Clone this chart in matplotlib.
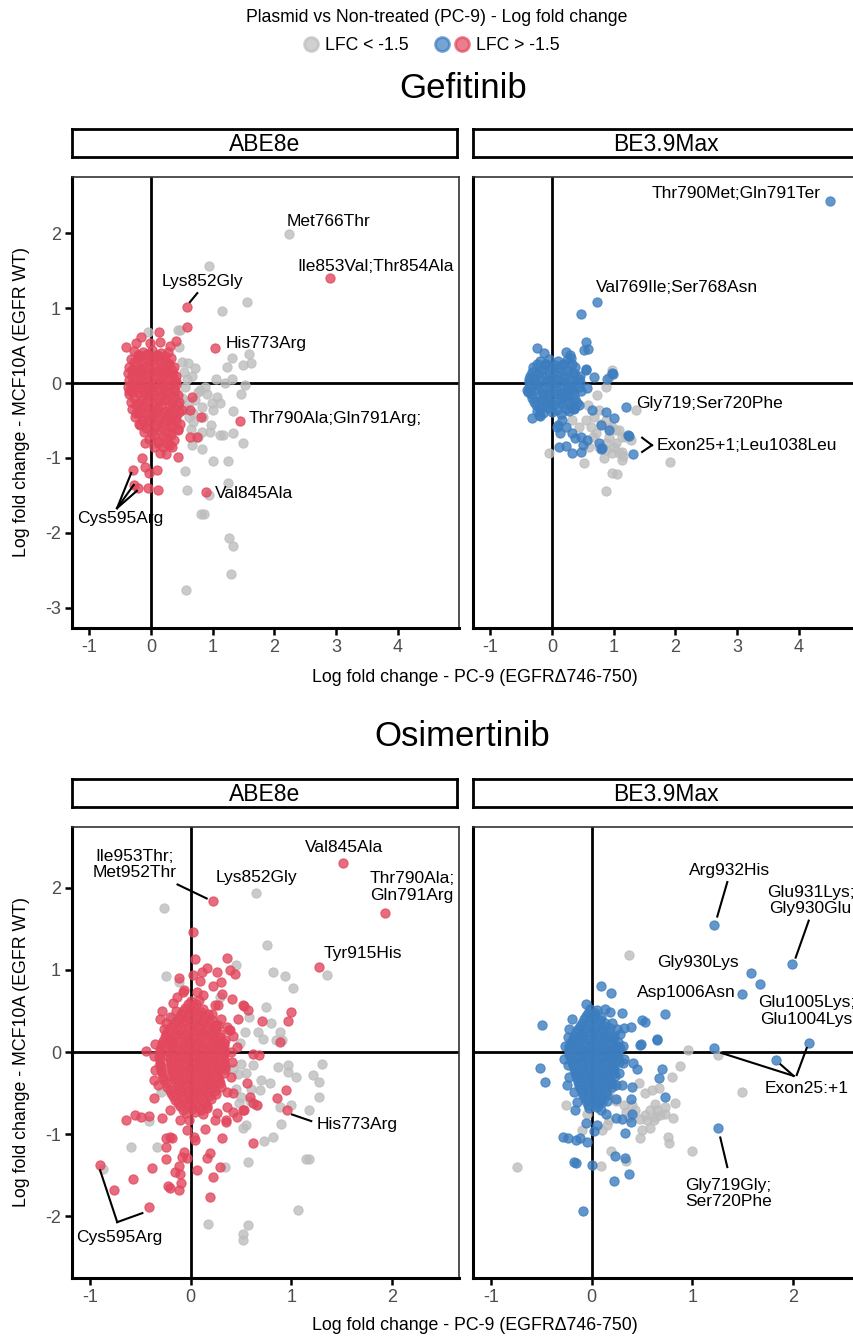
import matplotlib
matplotlib.use("Agg")
import matplotlib.pyplot as plt
import numpy as np
from matplotlib.lines import Line2D
from matplotlib.legend_handler import HandlerTuple

plt.rcParams['font.family'] = ['Liberation Sans', 'DejaVu Sans']
plt.rcParams['axes.unicode_minus'] = False

W, H = 854, 1336
RED = '#E2475D'
BLUE = '#3C7DBF'
GREY = '#BDBDBD'

# ---------------- Gefitinib / ABE8e ----------------
gef_abe_bg = [
    (2.23, 1.99), (0.94, 1.56), (1.55, 1.08), (1.15, 0.96), (0.47, 0.71), (0.45, 0.48),
    (1.59, 0.39), (1.31, 0.33), (1.62, 0.27), (1.49, 0.24), (1.23, 0.21), (0.71, 0.20),
    (0.60, 0.27), (0.50, 0.28), (1.31, 0.05), (1.20, 0.00), (1.52, -0.03), (1.46, -0.15),
    (1.07, -0.19), (0.90, -0.15), (0.76, -0.12), (1.12, -0.27), (0.99, -0.27), (0.83, -0.32),
    (1.00, -0.36), (1.33, -0.37), (0.68, -0.40), (0.68, -0.52), (0.98, -0.56), (0.83, -0.65),
    (1.12, -0.69), (1.17, -0.69), (1.33, -0.67), (1.49, -0.80), (0.67, -0.83), (0.83, -0.88),
    (1.00, -1.04), (1.25, -1.04), (0.55, -1.17), (1.25, -1.33), (0.59, -1.43), (0.94, -1.49),
    (0.81, -1.75), (0.86, -1.75), (1.27, -2.07), (1.33, -2.18), (1.29, -2.55), (0.57, -2.76),
    (-0.05, 0.68), (0.44, 0.71), (0.53, 0.15), (0.58, 0.05), (0.55, -0.05), (0.79, -0.09),
    (0.62, -0.25), (0.72, -0.22), (0.85, -0.45), (0.62, -0.45), (0.95, -0.65), (0.65, -0.62),
    (0.76, -0.72), (0.55, -0.35), (0.50, -0.20), (0.88, -0.05), (1.05, 0.05), (0.66, 0.10),
]
gef_abe_hit = [
    # outlying variants
    (2.90, 1.40), (0.58, 1.01), (0.58, 0.75), (1.04, 0.47), (1.44, -0.51),
    (0.89, -1.45), (0.66, -0.19), (0.81, -0.45), (0.63, -0.36), (0.63, -0.72),
    (0.74, -0.72), (0.34, -0.85), (0.44, -0.99), (0.15, -0.93), (0.25, -0.95),
    (-0.18, -0.56), (-0.10, -0.80), (-0.15, -1.00), (-0.10, -1.12),
    (-0.03, -1.20), (0.10, -1.16), (-0.29, -1.16), (-0.28, -1.36), (-0.21, -1.40),
    (-0.05, -1.40), (0.11, -1.43),
    (-0.40, 0.48), (-0.24, 0.53), (-0.16, 0.62), (-0.02, 0.53), (0.13, 0.68),
    (0.15, 0.55), (0.41, 0.56), (0.30, 0.50),
    # dense core
    (-0.28, 0.43), (-0.13, 0.41), (0.02, 0.44), (0.17, 0.40), (0.27, 0.42),
    (-0.33, 0.32), (-0.19, 0.35), (-0.06, 0.31), (0.09, 0.34), (0.22, 0.30), (0.33, 0.33),
    (-0.35, 0.22), (-0.23, 0.25), (-0.09, 0.21), (0.05, 0.24), (0.18, 0.22), (0.29, 0.26), (0.38, 0.21),
    (-0.37, 0.13), (-0.24, 0.15), (-0.11, 0.12), (0.01, 0.16), (0.14, 0.13), (0.26, 0.15), (0.36, 0.12),
    (-0.36, 0.04), (-0.22, 0.06), (-0.10, 0.03), (0.04, 0.07), (0.16, 0.04), (0.28, 0.06), (0.41, 0.03),
    (-0.38, -0.05), (-0.26, -0.03), (-0.13, -0.06), (0.00, -0.04), (0.12, -0.07), (0.24, -0.04), (0.37, -0.06),
    (-0.35, -0.15), (-0.21, -0.13), (-0.09, -0.16), (0.05, -0.14), (0.18, -0.17), (0.30, -0.14), (0.43, -0.16),
    (-0.33, -0.25), (-0.20, -0.27), (-0.06, -0.24), (0.08, -0.26), (0.21, -0.23), (0.34, -0.27), (0.46, -0.25),
    (-0.30, -0.35), (-0.16, -0.33), (-0.03, -0.36), (0.11, -0.34), (0.24, -0.37), (0.37, -0.34), (0.50, -0.36),
    (-0.26, -0.45), (-0.12, -0.47), (0.02, -0.44), (0.15, -0.46), (0.28, -0.43), (0.41, -0.46),
    (-0.20, -0.55), (-0.06, -0.53), (0.08, -0.56), (0.21, -0.54), (0.34, -0.57), (0.47, -0.55),
    (-0.12, -0.65), (0.02, -0.67), (0.16, -0.64), (0.30, -0.66), (0.43, -0.63),
    (-0.04, -0.75), (0.12, -0.77), (0.26, -0.74), (0.38, -0.76),
    (0.05, -0.85), (0.20, -0.86), (0.30, -0.83),
    (-0.20, 0.38), (-0.05, 0.37), (0.10, 0.38), (-0.29, 0.18), (-0.15, 0.18), (0.20, 0.17),
    (-0.30, -0.10), (-0.05, -0.10), (0.22, -0.10), (-0.25, -0.40), (0.05, -0.40), (0.33, -0.50),
    (-0.21, 0.38), (-0.06, 0.39), (0.09, 0.37), (0.22, 0.36),
    (-0.27, 0.28), (-0.13, 0.27), (0.01, 0.29), (0.15, 0.28), (0.28, 0.27),
    (-0.30, 0.18), (-0.16, 0.19), (-0.03, 0.17), (0.11, 0.18), (0.24, 0.19), (0.34, 0.17),
    (-0.31, 0.09), (-0.17, 0.08), (-0.05, 0.10), (0.08, 0.09), (0.20, 0.08), (0.32, 0.10), (0.40, 0.09),
    (-0.32, -0.01), (-0.19, 0.00), (-0.06, -0.02), (0.06, -0.01), (0.18, 0.00), (0.31, -0.02), (0.40, -0.01),
    (-0.36, -0.10), (-0.24, -0.09), (-0.11, -0.11), (0.02, -0.10), (0.14, -0.09), (0.26, -0.11), (0.39, -0.10),
    (-0.28, -0.20), (-0.15, -0.21), (-0.02, -0.19), (0.12, -0.20), (0.25, -0.21), (0.38, -0.19),
    (-0.24, -0.30), (-0.10, -0.31), (0.03, -0.29), (0.17, -0.30), (0.30, -0.31), (0.43, -0.29),
    (-0.20, -0.40), (-0.07, -0.41), (0.08, -0.39), (0.21, -0.40), (0.35, -0.41), (0.46, -0.39),
    (-0.15, -0.50), (-0.01, -0.51), (0.12, -0.49), (0.26, -0.50), (0.40, -0.51),
    (-0.08, -0.60), (0.05, -0.61), (0.18, -0.59), (0.32, -0.60), (0.44, -0.61),
    (0.05, -0.70), (0.19, -0.71), (0.33, -0.69),
    (0.12, -0.80), (0.26, -0.81),
]
gef_abe_labels = [
    ('Met766Thr', 2.88, 2.15), ('Ile853Val;Thr854Ala', 3.64, 1.55),
    ('Lys852Gly', 0.83, 1.35), ('His773Arg', 1.86, 0.53),
    ('Thr790Ala;Gln791Arg;', 2.98, -0.47), ('Val845Ala', 1.67, -1.48),
    ('Cys595Arg', -0.50, -1.81),
]
gef_abe_segs = [
    ((0.63, 1.08), (0.75, 1.20)),
    ((-0.55, -1.67), (-0.32, -1.20)), ((-0.55, -1.67), (-0.28, -1.36)),
    ((-0.55, -1.67), (-0.23, -1.44)),
]

# ---------------- Gefitinib / BE3.9Max ----------------
gef_be_bg = [
    (-0.05, -0.93), (0.52, -1.07), (0.97, -1.20), (1.05, -1.21), (0.87, -1.44), (1.91, -1.05),
    (0.87, -0.80), (1.00, -0.85), (1.13, -0.92), (1.13, -1.03), (0.97, -0.93), (0.84, -1.00),
    (0.71, -0.67), (0.92, -0.60), (1.04, -0.63), (1.13, -0.72), (1.28, -0.76), (0.63, -0.59),
    (0.97, 0.17), (0.92, 0.08), (0.87, -0.05), (0.73, -0.16), (1.36, -0.36), (0.76, -0.36),
    (0.87, -0.49), (0.97, -0.59), (1.09, -0.63), (0.92, -0.72), (1.04, -0.80), (1.20, -0.72),
    (0.76, -0.85), (0.87, -0.89), (1.09, -0.93), (1.15, -0.98), (0.55, -0.49), (0.44, -0.59),
    (0.32, -0.49), (0.60, -0.85), (0.66, -0.72), (0.80, -0.55), (0.58, -0.30), (0.68, -0.45),
]
gef_be_hit = [
    (4.51, 2.43), (0.73, 1.08), (0.47, 0.92), (0.55, 0.55), (0.52, 0.44), (0.58, 0.45),
    (-0.24, 0.47), (-0.13, 0.40), (0.23, 0.41), (0.29, 0.37), (0.31, 0.33), (0.55, 0.19),
    (0.68, 0.08), (0.89, 0.05), (0.99, 0.12), (1.20, -0.32), (-0.39, -0.12), (-0.32, -0.47),
    (-0.19, -0.44), (0.10, -0.56), (0.13, -0.67), (0.11, -0.85), (0.22, -0.84), (0.32, -0.93),
    (0.47, -0.92), (0.50, -0.83), (0.57, -0.76), (0.32, -0.67), (0.37, -0.73), (0.79, -0.88),
    (0.79, -0.56), (1.23, -0.69), (1.31, -0.95), (0.57, -0.07), (0.97, 0.13), (0.55, 0.17),
    (0.65, -0.36), (0.87, -0.39), (1.00, -0.47), (0.92, -0.63), (0.47, -0.72), (0.16, -0.49),
    (0.23, -0.59), (0.08, -0.59), (-0.21, -0.43), (-0.40, -0.09), (0.81, -0.87), (0.76, -0.80),
    (1.25, -0.71),
    # dense core
    (-0.20, 0.30), (-0.05, 0.32), (0.10, 0.29), (0.25, 0.31),
    (-0.30, 0.21), (-0.16, 0.19), (-0.02, 0.22), (0.12, 0.20), (0.26, 0.18), (0.38, 0.21),
    (-0.36, 0.10), (-0.22, 0.12), (-0.08, 0.09), (0.06, 0.11), (0.20, 0.08), (0.34, 0.11), (0.45, 0.09),
    (-0.38, 0.01), (-0.24, -0.01), (-0.10, 0.02), (0.04, 0.00), (0.18, 0.02), (0.32, -0.01), (0.46, 0.01),
    (-0.36, -0.10), (-0.22, -0.08), (-0.08, -0.11), (0.06, -0.09), (0.20, -0.12), (0.34, -0.09), (0.47, -0.11),
    (-0.32, -0.20), (-0.18, -0.22), (-0.04, -0.19), (0.10, -0.21), (0.24, -0.18), (0.38, -0.21),
    (-0.26, -0.30), (-0.12, -0.29), (0.02, -0.31), (0.16, -0.28), (0.30, -0.31), (0.44, -0.29),
    (-0.15, -0.40), (0.00, -0.39), (0.14, -0.41), (0.28, -0.38),
    (-0.12, 0.25), (0.18, 0.25), (-0.28, 0.05), (0.00, 0.05), (0.26, -0.05), (-0.15, -0.15),
    (0.15, -0.15), (-0.05, -0.25), (0.36, -0.35), (-0.25, -0.38),
    (-0.25, 0.25), (-0.10, 0.26), (0.05, 0.24), (0.20, 0.26), (0.32, 0.25),
    (-0.33, 0.15), (-0.19, 0.16), (-0.05, 0.14), (0.09, 0.15), (0.23, 0.16), (0.36, 0.14),
    (-0.37, 0.05), (-0.23, 0.06), (-0.09, 0.04), (0.05, 0.05), (0.19, 0.06), (0.33, 0.04), (0.43, 0.05),
    (-0.37, -0.05), (-0.23, -0.04), (-0.09, -0.06), (0.05, -0.05), (0.19, -0.04), (0.33, -0.06), (0.43, -0.05),
    (-0.34, -0.15), (-0.20, -0.16), (-0.06, -0.14), (0.08, -0.15), (0.22, -0.16), (0.36, -0.14),
    (-0.29, -0.25), (-0.15, -0.24), (-0.01, -0.26), (0.13, -0.25), (0.27, -0.24), (0.41, -0.26),
    (-0.20, -0.35), (-0.06, -0.34), (0.08, -0.36), (0.22, -0.35), (0.36, -0.34),
]
gef_be_labels = [
    ('Thr790Met;Gln791Ter', 2.98, 2.53), ('Val769Ile;Ser768Asn', 2.03, 1.27),
    ('Gly719;Ser720Phe', 2.55, -0.27), ('Exon25+1;Leu1038Leu', 3.16, -0.83),
]
gef_be_segs = [((1.46, -0.73), (1.62, -0.83)), ((1.46, -0.92), (1.62, -0.83))]

# ---------------- Osimertinib / ABE8e ----------------
osi_abe_bg = [
    (-0.26, 1.76), (0.65, 1.94), (0.76, 1.30), (0.82, 0.98), (0.94, 0.93), (1.02, 0.78),
    (1.36, 0.94), (-0.24, 0.93), (-0.12, 0.85), (0.45, 1.06), (0.75, 0.55), (0.58, 0.43),
    (0.80, 0.35), (0.54, 0.24), (0.67, 0.24), (0.72, 0.16), (0.89, 0.24), (0.91, 0.15),
    (0.85, 0.15), (0.49, 0.11), (0.29, 0.67), (-0.19, 0.41),
    (0.50, -0.14), (0.62, -0.16), (0.70, -0.34), (0.79, -0.38), (0.87, -0.18), (0.97, -0.16),
    (0.97, -0.24), (1.05, -0.30), (1.22, -0.28), (1.31, -0.14), (1.28, -0.36), (1.28, -0.55),
    (1.18, -0.71), (1.00, -0.65), (0.89, -0.67), (0.82, -1.03), (0.73, -1.08), (0.90, -0.87),
    (0.55, -0.89), (0.52, -0.93), (0.69, -0.46), (0.59, -0.59), (0.50, -0.55), (1.15, -1.30),
    (1.18, -1.30), (-0.33, -1.16), (-0.59, -1.16), (-0.41, -0.84), (0.57, -1.34), (0.34, -1.40),
    (-0.31, -0.16), (-0.29, -0.48), (1.07, -1.92), (0.57, -2.11), (0.52, -2.21), (0.52, -2.29),
    (0.17, -2.09), (-0.87, -1.42), (0.42, -0.20), (0.47, -0.27), (0.55, -0.26), (0.45, -0.45),
    (0.48, -0.62), (0.60, -0.45), (0.65, -0.65),
]
osi_abe_hit = [
    (1.52, 2.30), (1.93, 1.69), (0.22, 1.84), (1.28, 1.04), (0.02, 1.46), (0.04, 1.13),
    (0.36, 1.15), (0.26, 0.98), (0.39, 1.00), (0.44, 0.95), (0.11, 0.98), (0.02, 0.94),
    (0.09, 0.87), (0.06, 0.73), (0.12, 0.70), (0.31, 0.71), (0.41, 0.65), (0.52, 0.57),
    (0.57, 0.51), (0.71, 0.38), (1.00, 0.49), (0.97, 0.38), (0.38, 0.27), (0.21, 0.46),
    (0.24, 0.57), (-0.14, 0.67), (-0.08, 0.73), (-0.44, 0.01), (-0.07, 0.75), (0.27, 0.57),
    (0.53, 0.56), (0.25, 0.33), (0.39, 0.27), (0.89, 0.12), (-0.18, 0.60), (-0.24, 0.35),
    (-0.21, 0.43), (-0.15, 0.50), (-0.21, 0.15), (0.46, 0.06), (0.62, -0.02), (0.68, -0.04),
    (-0.36, -0.34), (-0.36, -0.56), (-0.21, -0.71), (-0.28, -0.80), (-0.11, -0.83), (-0.02, -0.83),
    (-0.04, -0.95), (-0.21, -1.03), (0.03, -1.03), (-0.24, -1.16), (-0.09, -1.28), (-0.16, -1.46),
    (-0.21, -1.65), (-0.10, -1.59), (0.06, -1.44), (0.16, -1.29), (0.19, -1.23), (0.29, -1.40),
    (0.22, -1.52), (0.31, -1.05), (0.35, -0.85), (0.26, -0.74), (0.16, -0.68), (0.36, -0.67),
    (0.46, -0.79), (0.53, -0.71), (0.62, -0.62), (0.59, -0.55), (0.56, -0.38), (0.42, -0.50),
    (0.36, -0.49), (0.62, -1.11), (0.95, -0.46), (0.96, -0.71), (0.86, -0.56),
    (-0.64, -0.83), (-0.55, -0.76), (-0.49, -0.79), (-0.41, -0.78), (-0.38, -1.41), (-0.24, -1.30),
    (-0.12, -1.39), (-0.11, -1.49), (-0.22, -1.63), (-0.12, -1.68), (0.19, -1.77), (-0.04, -1.29),
    (-0.24, -1.05), (-0.19, -1.04), (-0.07, -1.22), (0.04, -1.07), (0.14, -0.94), (0.24, -0.83),
    (0.35, -0.83), (0.42, -0.73), (0.52, -0.71), (0.66, -0.65),
    (-0.90, -1.37), (-0.76, -1.68), (-0.57, -1.54), (-0.41, -1.88),
    # dense core
    (0.00, 0.62), (0.08, 0.63),
    (-0.06, 0.54), (0.03, 0.55), (0.12, 0.53),
    (-0.10, 0.46), (-0.01, 0.47), (0.08, 0.45), (0.17, 0.46),
    (-0.15, 0.38), (-0.06, 0.39), (0.03, 0.37), (0.12, 0.38), (0.21, 0.39),
    (-0.20, 0.30), (-0.11, 0.31), (-0.02, 0.29), (0.07, 0.30), (0.16, 0.31), (0.25, 0.29),
    (-0.24, 0.22), (-0.15, 0.23), (-0.06, 0.21), (0.03, 0.22), (0.12, 0.23), (0.21, 0.21), (0.29, 0.22),
    (-0.27, 0.14), (-0.18, 0.15), (-0.09, 0.13), (0.00, 0.14), (0.09, 0.15), (0.18, 0.13), (0.27, 0.14), (0.34, 0.15),
    (-0.29, 0.06), (-0.20, 0.07), (-0.11, 0.05), (-0.02, 0.06), (0.07, 0.07), (0.16, 0.05), (0.25, 0.06), (0.33, 0.07),
    (-0.30, -0.02), (-0.21, -0.01), (-0.12, -0.03), (-0.03, -0.02), (0.06, -0.01), (0.15, -0.03), (0.24, -0.02), (0.33, -0.01),
    (-0.30, -0.10), (-0.21, -0.09), (-0.12, -0.11), (-0.03, -0.10), (0.06, -0.09), (0.15, -0.11), (0.24, -0.10), (0.33, -0.09),
    (-0.29, -0.18), (-0.20, -0.17), (-0.11, -0.19), (-0.02, -0.18), (0.07, -0.17), (0.16, -0.19), (0.25, -0.18), (0.34, -0.17),
    (-0.28, -0.26), (-0.19, -0.25), (-0.10, -0.27), (-0.01, -0.26), (0.08, -0.25), (0.17, -0.27), (0.26, -0.26), (0.33, -0.25),
    (-0.26, -0.34), (-0.17, -0.33), (-0.08, -0.35), (0.01, -0.34), (0.10, -0.33), (0.19, -0.35), (0.28, -0.34),
    (-0.23, -0.42), (-0.14, -0.41), (-0.05, -0.43), (0.04, -0.42), (0.13, -0.41), (0.22, -0.43), (0.30, -0.42),
    (-0.20, -0.50), (-0.11, -0.49), (-0.02, -0.51), (0.07, -0.50), (0.16, -0.49), (0.25, -0.51),
    (-0.16, -0.58), (-0.07, -0.57), (0.02, -0.59), (0.11, -0.58), (0.20, -0.57),
    (-0.11, -0.66), (-0.02, -0.65), (0.07, -0.67), (0.16, -0.66),
    (-0.05, -0.74), (0.04, -0.73), (0.12, -0.75),
    (-0.30, 0.40), (-0.26, 0.28), (0.30, 0.40), (0.36, 0.30), (0.42, 0.20), (-0.35, 0.10),
    (0.40, 0.00), (-0.36, -0.05), (0.41, -0.12), (-0.35, -0.22), (0.40, -0.30), (-0.32, -0.40),
    (0.22, 0.80), (-0.12, 0.90), (0.16, 1.02), (0.30, 0.85), (-0.28, 0.50), (0.47, 0.40),
    (-0.03, 0.58), (0.05, 0.59),
    (-0.08, 0.50), (0.01, 0.51), (0.10, 0.49),
    (-0.12, 0.42), (-0.03, 0.43), (0.06, 0.41), (0.15, 0.42),
    (-0.17, 0.34), (-0.08, 0.35), (0.01, 0.33), (0.10, 0.34), (0.19, 0.35), (0.27, 0.33),
    (-0.22, 0.26), (-0.13, 0.27), (-0.04, 0.25), (0.05, 0.26), (0.14, 0.27), (0.23, 0.25),
    (-0.25, 0.18), (-0.16, 0.19), (-0.07, 0.17), (0.02, 0.18), (0.11, 0.19), (0.20, 0.17), (0.29, 0.18),
    (-0.28, 0.10), (-0.19, 0.11), (-0.10, 0.09), (-0.01, 0.10), (0.08, 0.11), (0.17, 0.09), (0.26, 0.10), (0.33, 0.11),
    (-0.30, 0.02), (-0.21, 0.03), (-0.12, 0.01), (-0.03, 0.02), (0.06, 0.03), (0.15, 0.01), (0.24, 0.02), (0.33, 0.03),
    (-0.31, -0.06), (-0.22, -0.05), (-0.13, -0.07), (-0.04, -0.06), (0.05, -0.05), (0.14, -0.07), (0.23, -0.06), (0.32, -0.05),
    (-0.30, -0.14), (-0.21, -0.13), (-0.12, -0.15), (-0.03, -0.14), (0.06, -0.13), (0.15, -0.15), (0.24, -0.14), (0.33, -0.13),
    (-0.29, -0.22), (-0.20, -0.21), (-0.11, -0.23), (-0.02, -0.22), (0.07, -0.21), (0.16, -0.23), (0.25, -0.22), (0.34, -0.21),
    (-0.27, -0.30), (-0.18, -0.29), (-0.09, -0.31), (0.00, -0.30), (0.09, -0.29), (0.18, -0.31), (0.27, -0.30),
    (-0.24, -0.38), (-0.15, -0.37), (-0.06, -0.39), (0.03, -0.38), (0.12, -0.37), (0.21, -0.39), (0.29, -0.38),
    (-0.21, -0.46), (-0.12, -0.45), (-0.03, -0.47), (0.06, -0.46), (0.15, -0.45), (0.24, -0.47),
    (-0.18, -0.54), (-0.09, -0.53), (0.00, -0.55), (0.09, -0.54), (0.18, -0.53),
    (-0.13, -0.62), (-0.04, -0.61), (0.05, -0.63), (0.14, -0.62),
    (-0.08, -0.70), (0.01, -0.69), (0.10, -0.71),
]
osi_abe_labels = [
    ('Ile953Thr;\nMet952Thr', -0.56, 2.28), ('Lys852Gly', 0.65, 2.12),
    ('Val845Ala', 1.53, 2.49), ('Thr790Ala;\nGln791Arg', 2.20, 2.01),
    ('Tyr915His', 1.71, 1.20), ('His773Arg', 1.66, -0.88),
    ('Cys595Arg', -0.71, -2.26),
]
osi_abe_segs = [
    ((-0.13, 2.04), (0.16, 1.87)), ((1.01, -0.76), (1.20, -0.84)),
    ((-0.90, -1.44), (-0.73, -2.07)), ((-0.73, -2.07), (-0.48, -1.96)),
]

# ---------------- Osimertinib / BE3.9Max ----------------
osi_be_bg = [
    (0.37, 1.18), (0.96, 0.03), (1.26, -0.03), (-0.74, -1.40), (-0.25, -0.65), (-0.10, -0.95),
    (0.09, -1.39), (0.19, -1.20), (0.34, -1.33), (1.00, -1.21), (0.77, -1.11), (0.76, -1.03),
    (0.48, -1.04), (0.50, -0.95), (0.58, -0.92), (0.62, -0.83), (0.55, -0.83), (0.48, -0.82),
    (0.63, -0.79), (0.68, -0.76), (0.81, -0.80), (0.73, -0.75), (0.65, -0.71), (0.58, -0.71),
    (0.53, -0.77), (0.43, -0.71), (0.37, -0.79), (0.34, -0.73), (0.15, -0.89), (0.10, -0.95),
    (0.17, -0.83), (0.32, -0.65), (0.40, -0.65), (0.63, -0.63), (0.73, -0.67), (0.83, -0.62),
    (0.47, -0.38), (0.60, -0.46), (0.67, -0.44), (0.53, -0.50), (0.88, -0.17), (0.80, -0.30),
    (1.50, -0.49), (0.17, -0.50), (0.24, -0.59), (0.12, -0.55), (0.04, -0.67), (-0.05, -0.75),
]
osi_be_hit = [
    (1.22, 1.55), (1.99, 1.07), (1.59, 0.96), (1.68, 0.83), (1.50, 0.71),
    (1.22, 0.05), (1.83, -0.10), (2.16, 0.11), (1.26, -0.93),
    (0.09, 0.80), (0.19, 0.72), (-0.06, 0.59), (0.13, 0.53), (0.18, 0.49), (0.30, 0.48),
    (0.50, 0.39), (0.53, 0.37), (0.73, 0.46), (0.39, 0.30), (0.32, 0.29), (0.25, 0.28),
    (0.65, 0.16), (0.48, 0.09), (-0.49, 0.33), (-0.20, 0.40), (-0.23, 0.18), (0.20, 0.35),
    (0.21, 0.17), (0.28, 0.05),
    (-0.23, -0.16), (-0.24, -0.40), (-0.51, -0.19), (-0.46, -0.36), (-0.15, -0.61), (-0.17, -0.71),
    (-0.06, -0.86), (-0.05, -1.09), (-0.28, -1.03), (-0.23, -1.04), (-0.16, -1.07), (-0.12, -1.05),
    (-0.18, -1.34), (-0.16, -1.35), (0.00, -1.37), (-0.09, -1.94), (0.02, -0.96), (0.05, -0.89),
    (0.14, -0.75), (0.07, -0.61), (0.09, -0.71), (0.15, -0.59), (0.24, -0.57), (0.20, -0.38),
    (0.30, -0.40), (0.40, -0.42), (0.39, -0.57), (0.40, -0.75), (0.24, -0.80), (0.30, -0.82),
    (0.39, -0.85), (0.33, -0.98), (0.23, -1.27), (0.33, -1.29), (0.37, -1.48), (0.22, -1.57),
    (0.31, -0.13), (0.41, -0.13), (0.45, -0.20), (0.49, 0.10), (0.65, 0.15), (0.67, -0.32),
    (0.70, -0.20), (0.73, -0.55),
    # dense core
    (-0.02, 0.52), (0.05, 0.51),
    (-0.06, 0.44), (0.02, 0.45), (0.09, 0.43),
    (-0.10, 0.36), (-0.02, 0.37), (0.06, 0.35), (0.13, 0.36),
    (-0.14, 0.28), (-0.06, 0.29), (0.02, 0.27), (0.10, 0.28), (0.18, 0.29),
    (-0.18, 0.20), (-0.10, 0.21), (-0.02, 0.19), (0.06, 0.20), (0.14, 0.21), (0.22, 0.19),
    (-0.21, 0.12), (-0.13, 0.13), (-0.05, 0.11), (0.03, 0.12), (0.11, 0.13), (0.19, 0.11), (0.26, 0.12),
    (-0.22, 0.04), (-0.14, 0.05), (-0.06, 0.03), (0.02, 0.04), (0.10, 0.05), (0.18, 0.03), (0.26, 0.04),
    (-0.22, -0.04), (-0.14, -0.03), (-0.06, -0.05), (0.02, -0.04), (0.10, -0.03), (0.18, -0.05), (0.26, -0.04),
    (-0.20, -0.12), (-0.12, -0.11), (-0.04, -0.13), (0.04, -0.12), (0.12, -0.11), (0.20, -0.13), (0.27, -0.12),
    (-0.18, -0.20), (-0.10, -0.19), (-0.02, -0.21), (0.06, -0.20), (0.14, -0.19), (0.22, -0.21),
    (-0.16, -0.28), (-0.08, -0.27), (0.00, -0.29), (0.08, -0.28), (0.16, -0.27), (0.23, -0.29),
    (-0.14, -0.36), (-0.06, -0.35), (0.02, -0.37), (0.10, -0.36), (0.18, -0.35),
    (-0.12, -0.44), (-0.04, -0.43), (0.04, -0.45), (0.12, -0.44), (0.20, -0.43),
    (-0.09, -0.52), (-0.01, -0.51), (0.07, -0.53), (0.15, -0.52),
    (-0.06, -0.60), (0.02, -0.59), (0.10, -0.61),
    (-0.03, -0.68), (0.05, -0.67),
    (-0.26, 0.08), (-0.27, -0.08), (0.31, 0.08), (0.32, -0.08), (0.28, 0.22), (-0.22, 0.28),
    (0.27, -0.25), (-0.22, -0.30), (0.24, -0.40), (-0.18, -0.48),
    (-0.04, 0.48), (0.03, 0.47),
    (-0.08, 0.40), (0.00, 0.41), (0.08, 0.39),
    (-0.12, 0.32), (-0.04, 0.33), (0.04, 0.31), (0.12, 0.32),
    (-0.16, 0.24), (-0.08, 0.25), (0.00, 0.23), (0.08, 0.24), (0.16, 0.25),
    (-0.19, 0.16), (-0.11, 0.17), (-0.03, 0.15), (0.05, 0.16), (0.13, 0.17), (0.21, 0.15),
    (-0.22, 0.08), (-0.14, 0.09), (-0.06, 0.07), (0.02, 0.08), (0.10, 0.09), (0.18, 0.07), (0.25, 0.08),
    (-0.22, 0.00), (-0.14, 0.01), (-0.06, -0.01), (0.02, 0.00), (0.10, 0.01), (0.18, -0.01), (0.25, 0.00),
    (-0.21, -0.08), (-0.13, -0.07), (-0.05, -0.09), (0.03, -0.08), (0.11, -0.07), (0.19, -0.09), (0.26, -0.08),
    (-0.19, -0.16), (-0.11, -0.15), (-0.03, -0.17), (0.05, -0.16), (0.13, -0.15), (0.21, -0.17),
    (-0.17, -0.24), (-0.09, -0.23), (-0.01, -0.25), (0.07, -0.24), (0.15, -0.23), (0.22, -0.25),
    (-0.15, -0.32), (-0.07, -0.31), (0.01, -0.33), (0.09, -0.32), (0.17, -0.31),
    (-0.13, -0.40), (-0.05, -0.39), (0.03, -0.41), (0.11, -0.40), (0.19, -0.39),
    (-0.10, -0.48), (-0.02, -0.47), (0.06, -0.49), (0.14, -0.48),
    (-0.07, -0.56), (0.01, -0.55), (0.09, -0.57),
    (-0.04, -0.64), (0.04, -0.63),
]
osi_be_labels = [
    ('Arg932His', 1.37, 2.21), ('Glu931Lys;\nGly930Glu', 2.18, 1.85),
    ('Gly930Lys', 1.06, 1.09), ('Asp1006Asn', 0.94, 0.73),
    ('Glu1005Lys;\nGlu1004Lys', 2.14, 0.50), ('Exon25:+1', 2.14, -0.44),
    ('Gly719Gly;\nSer720Phe', 1.36, -1.72),
]
osi_be_segs = [
    ((1.35, 2.07), (1.25, 1.65)), ((2.16, 1.60), (2.03, 1.15)),
    ((1.29, -0.01), (2.01, -0.29)), ((1.88, -0.15), (2.01, -0.29)),
    ((2.14, 0.05), (2.04, -0.28)), ((1.28, -1.04), (1.35, -1.40)),
]

GEF_XLIM, GEF_YLIM = (-1.28, 4.99), (-3.27, 2.75)
OSI_XLIM, OSI_YLIM = (-1.18, 2.67), (-2.75, 2.74)
GEF_XT, GEF_YT = [-1, 0, 1, 2, 3, 4], [-3, -2, -1, 0, 1, 2]
OSI_XT, OSI_YT = [-1, 0, 1, 2], [-2, -1, 0, 1, 2]

PT_SIZE = 44


def box(x0, y0, x1, y1):
    # pixel box -> figure fraction rect
    return [x0 / W, 1 - y1 / H, (x1 - x0) / W, (y1 - y0) / H]


def panel(fig, rect, strip, name, bg, hit, colour, labels, segs, xlim, ylim, xt, yt, ylab):
    ax = fig.add_axes(box(*rect))
    ax.axhline(0, color='black', lw=2, zorder=1)
    ax.axvline(0, color='black', lw=2, zorder=1)
    bg = np.array(bg)
    hit = np.array(hit)
    ax.scatter(bg[:, 0], bg[:, 1], s=PT_SIZE, color=GREY, alpha=0.8, lw=0.8, zorder=2)
    ax.scatter(hit[:, 0], hit[:, 1], s=PT_SIZE, color=colour, alpha=0.8, lw=0.8, zorder=3)
    for txt, x, y in labels:
        ax.text(x, y, txt, ha='center', va='center', fontsize=12.5, linespacing=1.1, zorder=5)
    for (x0, y0), (x1, y1) in segs:
        ax.plot([x0, x1], [y0, y1], color='black', lw=1.5, zorder=4)
    ax.set_xlim(*xlim)
    ax.set_ylim(*ylim)
    ax.set_xticks(xt)
    ax.set_xticklabels([str(t) for t in xt])
    ax.set_yticks(yt)
    ax.set_yticklabels([str(t) for t in yt])
    ax.tick_params(length=5, width=1.8, color='black', labelcolor='#4D4D4D',
                   labelsize=13, pad=3)
    if not ylab:
        ax.tick_params(axis='y', left=False, labelleft=False)
    for side in ('left', 'bottom'):
        ax.spines[side].set_linewidth(2.2)
    for side in ('top', 'right'):
        ax.spines[side].set_linewidth(1.2)
        ax.spines[side].set_color('#333333')

    sax = fig.add_axes(box(*strip))
    sax.set_xticks([])
    sax.set_yticks([])
    for sp in sax.spines.values():
        sp.set_linewidth(2)
    sax.text(0.5, 0.45, name, ha='center', va='center', fontsize=16.5, transform=sax.transAxes)
    return ax


fig = plt.figure(figsize=(W / 100, H / 100), dpi=100)

panel(fig, (72, 177, 459, 628), (72, 129, 457, 157), 'ABE8e', gef_abe_bg, gef_abe_hit, RED,
      gef_abe_labels, gef_abe_segs, GEF_XLIM, GEF_YLIM, GEF_XT, GEF_YT, True)
panel(fig, (473, 177, 860, 628), (473, 129, 858, 157), 'BE3.9Max', gef_be_bg, gef_be_hit, BLUE,
      gef_be_labels, gef_be_segs, GEF_XLIM, GEF_YLIM, GEF_XT, GEF_YT, False)
panel(fig, (72, 827, 459, 1278), (72, 779, 457, 807), 'ABE8e', osi_abe_bg, osi_abe_hit, RED,
      osi_abe_labels, osi_abe_segs, OSI_XLIM, OSI_YLIM, OSI_XT, OSI_YT, True)
panel(fig, (473, 827, 860, 1278), (473, 779, 858, 807), 'BE3.9Max', osi_be_bg, osi_be_hit, BLUE,
      osi_be_labels, osi_be_segs, OSI_XLIM, OSI_YLIM, OSI_XT, OSI_YT, False)

# titles and shared axis labels
fig.text(463 / W, 1 - 88 / H, 'Gefitinib', ha='center', va='center', fontsize=25)
fig.text(462 / W, 1 - 737 / H, 'Osimertinib', ha='center', va='center', fontsize=25)
for yc in (677, 1326):
    fig.text(475 / W, 1 - yc / H, 'Log fold change - PC-9 (EGFR\u0394746-750)',
             ha='center', va='center', fontsize=12.8)
for yc in (402, 1052):
    fig.text(22 / W, 1 - yc / H, 'Log fold change - MCF10A (EGFR WT)',
             ha='center', va='center', rotation=90, fontsize=12.8)

# legend: the grey entry gets an empty first slot so both keys line up on their text
fig.text(437 / W, 1 - 18 / H, 'Plasmid vs Non-treated (PC-9) - Log fold change',
         ha='center', va='center', fontsize=12.7)
mk = dict(marker='o', ls='', ms=10, alpha=0.7, mew=2)
h_none = Line2D([], [], ls='', marker='')
h_grey = Line2D([], [], color=GREY, **mk)
h_blue = Line2D([], [], color=BLUE, **mk)
h_red = Line2D([], [], color=RED, **mk)
fig.legend(handles=[(h_none, h_grey), (h_blue, h_red)], labels=['LFC < -1.5', 'LFC > -1.5'],
           handler_map={tuple: HandlerTuple(ndivide=None, pad=1.0)},
           fontsize=12.7, ncol=2, frameon=False, loc='center',
           bbox_to_anchor=(425 / W, 1 - 46 / H), borderaxespad=0, borderpad=0,
           handlelength=1.2, handletextpad=0.75, columnspacing=1.85)

fig.savefig('out.png', dpi=100)
